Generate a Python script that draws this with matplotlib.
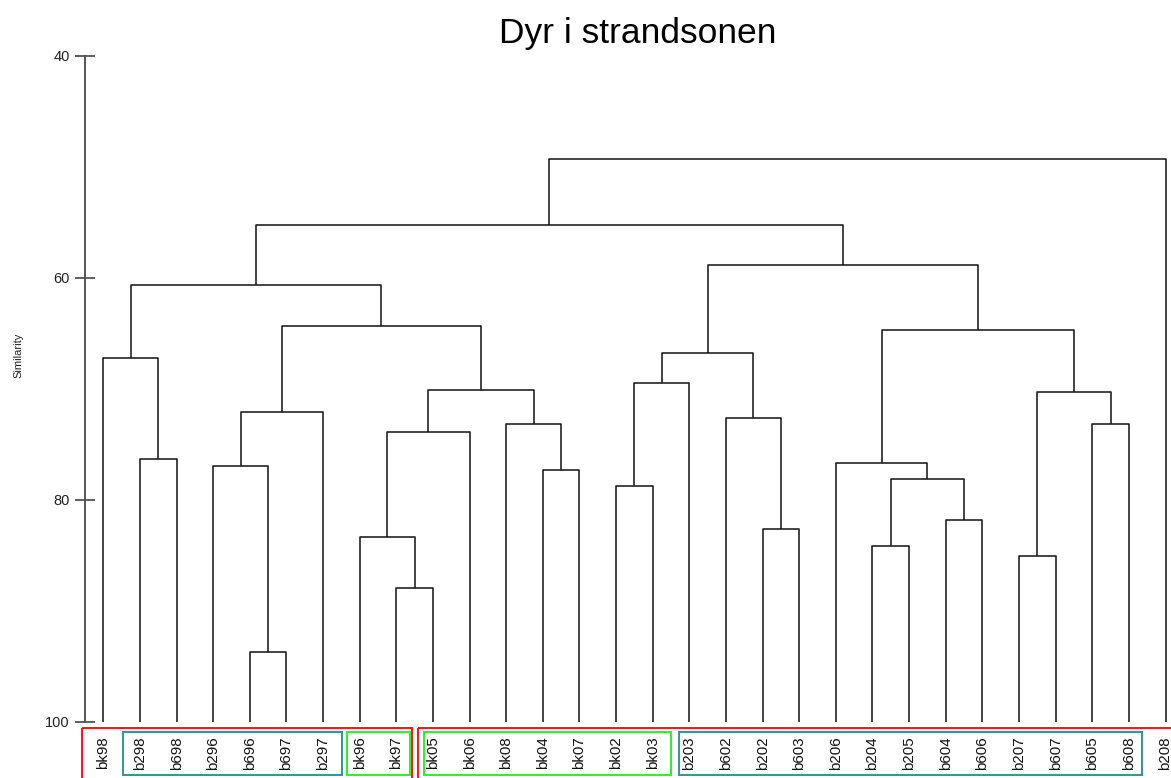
import matplotlib
matplotlib.use("Agg")
import matplotlib.pyplot as plt
from matplotlib.patches import Rectangle

plt.rcParams['font.family'] = ['Liberation Sans', 'DejaVu Sans']

# ---- data ----
leaves = ["bk98", "b298", "b698", "b296", "b696", "b697", "b297", "bk96", "bk97",
          "bk05", "bk06", "bk08", "bk04", "bk07", "bk02", "bk03", "b203", "b602",
          "b202", "b603", "b206", "b204", "b205", "b604", "b606", "b207", "b607",
          "b605", "b608", "b208"]

# children: leaf name (str) or index of an earlier merge (int)
merge_left = ["b696", "bk97", "bk96", "b296", 3, "b298", "bk98", 2, "bk04", "bk08",
              7, 4, 6, "bk02", 13, "b202", "b602", 14, "b204", "b604",
              18, "b206", "b207", "b605", 22, 21, 17, 12, 27]
merge_right = ["b697", "bk05", 1, 0, "b297", "b698", 5, "bk06", "bk07", 8,
               9, 10, 11, "bk03", "b203", "b603", 15, 16, "b205", "b606",
               19, 20, "b607", "b608", 23, 24, 25, 26, "b208"]
merge_sim = [93.69, 87.93, 83.36, 76.96, 72.13, 76.33, 67.26, 73.87, 77.32, 73.18,
             70.14, 64.38, 60.63, 78.74, 69.46, 82.64, 72.64, 66.76, 84.17, 81.80,
             78.11, 76.67, 85.05, 73.15, 70.27, 64.68, 58.88, 55.25, 49.31]

yticks = [40, 60, 80, 100]

# group boxes: (left edge, right edge in leaf units, color, kind)
boxes = [(-0.57, 8.44, "#ff0000", "outer"), (8.58, 29.6, "#ff0000", "outer"),
         (0.53, 6.51, "#3a9696", "inner"), (6.64, 8.37, "#33ee33", "inner"),
         (8.75, 15.49, "#33ee33", "inner"), (15.71, 28.36, "#3a9696", "inner")]

# ---- figure ----
W, H = 1171, 778
fig = plt.figure(figsize=(W / 100, H / 100), dpi=100)
ax = fig.add_axes([85 / W, 1 - 721.7 / H, 1 - 85 / W, (721.7 - 55.7) / H])

leaf_pos = {name: i for i, name in enumerate(leaves)}
node_x = []
node_y = []


def child_xy(c):
    if isinstance(c, str):
        return leaf_pos[c], 100.0
    return node_x[c], node_y[c]


line_kw = dict(color="#1a1a1a", lw=1.15, solid_capstyle="butt")
for l, r, s in zip(merge_left, merge_right, merge_sim):
    lx, ly = child_xy(l)
    rx, ry = child_xy(r)
    ax.plot([lx, lx, rx, rx], [ly, s, s, ry], **line_kw)
    node_x.append((lx + rx) / 2)
    node_y.append(s)

ax.set_xlim(-0.5, 29.15)
ax.set_ylim(100, 40)
ax.set_yticks(yticks)
ax.set_yticklabels([str(t) for t in yticks], fontsize=10.5, color="#222222")
ax.tick_params(axis="y", direction="inout", length=14, width=1.2, color="#444444", pad=4)
ax.set_xticks([])
for sp in ["top", "right", "bottom"]:
    ax.spines[sp].set_visible(False)
ax.spines["left"].set_color("#555555")
ax.spines["left"].set_linewidth(1.4)

# leaf labels
for i, name in enumerate(leaves):
    ax.text(i, 102.8, name, rotation=90, ha="center", va="center",
            fontsize=10.8, color="#111111", clip_on=False)

# group boxes
for x0, x1, col, kind in boxes:
    if kind == "outer":
        y0, y1 = 100.57, 106.5
        lw = 1.3
    else:
        y0, y1 = 100.93, 104.8
        lw = 1.5
    ax.add_patch(Rectangle((x0, y0), x1 - x0, y1 - y0, fill=False, edgecolor=col,
                           lw=lw, clip_on=False))

fig.text(18 / W, 1 - 355 / H, "Similarity", rotation=90, ha="center", va="center",
         fontsize=8, color="#222222")

fig.text(638 / W, 1 - 43 / H, "Dyr i strandsonen", ha="center", va="baseline",
         fontsize=25.5, color="black")

fig.savefig("out.png", dpi=100)
